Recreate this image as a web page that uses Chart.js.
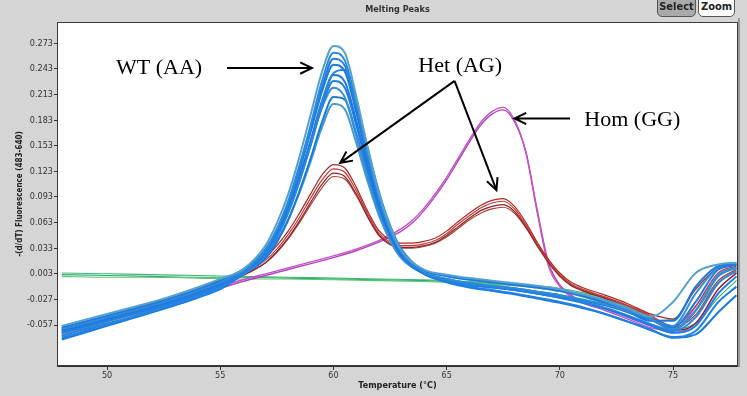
<!DOCTYPE html>
<html>
<head>
<meta charset="utf-8">
<script src="https://cdn.jsdelivr.net/npm/chart.js@4.4.0/dist/chart.umd.min.js"></script>
<style>
  html, body { margin: 0; padding: 0; background: #d5d5d5; }
  #wrap { position: relative; width: 747px; height: 396px; }
  .btn {
    position: absolute; top: -1px; height: 18px; line-height: 17px;
    font: bold 11px "DejaVu Sans Condensed", "Liberation Sans", sans-serif;
    color: #222; text-align: center; border: 1px solid #555;
    border-radius: 0 0 5px 5px; box-sizing: border-box;
  }
</style>
</head>
<body>
<div id="wrap">
  <canvas id="myChart" width="747" height="396"></canvas>
  <div class="btn" style="left:657px; width:39px; background:#a9a9a9;">Select</div>
  <div class="btn" style="left:698px; width:37px; background:#fff;">Zoom</div>
</div>
<script>
// Melting peak curves

// tick labels
const xTicks = [50, 55, 60, 65, 70, 75];
const yTicks = [-0.057, -0.027, 0.003, 0.033, 0.063, 0.093, 0.123, 0.153, 0.183, 0.213, 0.243, 0.273];

// WT (AA) curves - blue
const wtTemps = [48, 49, 50, 51, 52, 53, 54, 55, 56, 57, 57.5, 58, 58.5, 59, 59.5, 60, 60.5, 61, 61.5, 62, 62.5, 63, 64, 65, 66, 67, 68, 69, 70, 71, 72, 73, 74, 75, 76, 77, 77.8];
const wtCurves = [
  [-0.058,-0.051,-0.044,-0.037,-0.030,-0.022,-0.013,-0.003, 0.008,0.036,0.062,0.096,0.140,0.190,0.240,0.270,0.262,0.212,0.152,0.098,0.058,0.030,0.008, 0.002,-0.002,-0.005,-0.008,-0.011,-0.015,-0.021,-0.028,-0.037,-0.047,-0.030,0.004,0.014,0.016],
  [-0.062,-0.055,-0.048,-0.041,-0.034,-0.026,-0.017,-0.007, 0.006,0.031,0.055,0.088,0.130,0.178,0.229,0.262,0.253,0.204,0.145,0.094,0.055,0.029,0.005, -0.003,-0.008,-0.011,-0.014,-0.018,-0.022,-0.027,-0.033,-0.041,-0.050,-0.062,-0.040,0.000,0.010],
  [-0.066,-0.059,-0.052,-0.045,-0.038,-0.030,-0.021,-0.011, 0.004,0.029,0.052,0.084,0.125,0.172,0.222,0.255,0.247,0.200,0.142,0.092,0.054,0.028,0.004, -0.005,-0.010,-0.013,-0.016,-0.020,-0.025,-0.031,-0.038,-0.047,-0.057,-0.066,-0.058,-0.020,0.000],
  [-0.060,-0.053,-0.046,-0.039,-0.032,-0.024,-0.015,-0.005, 0.008,0.032,0.055,0.086,0.125,0.170,0.217,0.248,0.240,0.193,0.138,0.089,0.052,0.027,0.007, 0.000,-0.004,-0.007,-0.010,-0.013,-0.017,-0.023,-0.031,-0.041,-0.052,-0.052,-0.012,0.012,0.015],
  [-0.070,-0.062,-0.055,-0.048,-0.040,-0.032,-0.023,-0.013, 0.002,0.024,0.045,0.074,0.111,0.155,0.203,0.238,0.242,0.205,0.152,0.100,0.060,0.032,0.006, -0.004,-0.009,-0.012,-0.016,-0.020,-0.024,-0.030,-0.037,-0.046,-0.056,-0.064,-0.048,-0.008,0.006],
  [-0.064,-0.057,-0.050,-0.043,-0.036,-0.028,-0.019,-0.009, 0.005,0.027,0.049,0.079,0.117,0.160,0.206,0.236,0.228,0.183,0.131,0.084,0.049,0.025,0.004, -0.003,-0.008,-0.011,-0.014,-0.018,-0.022,-0.028,-0.034,-0.042,-0.051,-0.060,-0.030,0.008,0.013],
  [-0.072,-0.064,-0.056,-0.049,-0.041,-0.033,-0.024,-0.014, 0.003,0.025,0.046,0.075,0.112,0.154,0.199,0.229,0.221,0.178,0.127,0.082,0.048,0.024,0.003, -0.006,-0.012,-0.016,-0.020,-0.025,-0.030,-0.036,-0.044,-0.053,-0.063,-0.071,-0.064,-0.030,-0.012],
  [-0.061,-0.054,-0.047,-0.040,-0.033,-0.025,-0.016,-0.005, 0.008,0.030,0.052,0.081,0.117,0.157,0.198,0.221,0.210,0.165,0.117,0.075,0.044,0.023,0.006, 0.001,-0.003,-0.006,-0.009,-0.012,-0.016,-0.022,-0.029,-0.039,-0.050,-0.058,-0.020,0.010,0.014],
  [-0.074,-0.066,-0.058,-0.050,-0.042,-0.034,-0.025,-0.015, 0.002,0.021,0.040,0.066,0.100,0.139,0.181,0.210,0.207,0.168,0.121,0.078,0.046,0.023,0.003, -0.007,-0.013,-0.017,-0.021,-0.026,-0.031,-0.037,-0.044,-0.053,-0.062,-0.072,-0.068,-0.042,-0.022],
  [-0.067,-0.060,-0.053,-0.046,-0.038,-0.030,-0.021,-0.011, 0.004,0.023,0.041,0.066,0.098,0.135,0.175,0.202,0.196,0.157,0.112,0.072,0.042,0.021,0.003, -0.005,-0.010,-0.013,-0.016,-0.020,-0.025,-0.030,-0.037,-0.046,-0.056,-0.063,-0.040,0.002,0.010]
];
const wtColors = ['#55a2cf', '#2f8ad8', '#1f7fe6', '#1b78e0', '#2a86dc', '#1c7ae2', '#1f80e6', '#3a90d6', '#1b7ade', '#4a9bd0'];

// Het (AG) curves - red
const hetTemps = [48, 49, 50, 51, 52, 53, 54, 55, 56, 57, 57.5, 58, 58.5, 59, 59.5, 60, 60.5, 61, 61.5, 62, 62.5, 63, 63.5, 64, 64.5, 65, 65.5, 66, 66.5, 67, 67.5, 68, 68.5, 69, 69.5, 70, 70.5, 71, 72, 73, 74, 75, 76, 77, 77.8];
const hetCurves = [
  [-0.063,-0.055,-0.047,-0.039,-0.031,-0.022,-0.013,-0.004,0.006,0.022, 0.036,0.053,0.074,0.097,0.119,0.131,0.127,0.105,0.077,0.054,0.043,0.039,0.039,0.041,0.045,0.053,0.064,0.074,0.083,0.089,0.091,0.082,0.063,0.040,0.020,0.004,-0.007, -0.013,-0.022,-0.032,-0.044,-0.050,-0.015,0.010,0.014],
  [-0.066,-0.058,-0.050,-0.042,-0.034,-0.025,-0.016,-0.007,0.003,0.019, 0.032,0.049,0.069,0.092,0.113,0.126,0.122,0.101,0.074,0.051,0.040,0.036,0.036,0.038,0.042,0.050,0.061,0.071,0.080,0.086,0.088,0.079,0.060,0.038,0.018,0.002,-0.009, -0.015,-0.024,-0.034,-0.046,-0.058,-0.035,0.004,0.012],
  [-0.069,-0.061,-0.053,-0.045,-0.037,-0.028,-0.019,-0.009,0.001,0.016, 0.029,0.045,0.065,0.087,0.108,0.121,0.117,0.097,0.071,0.049,0.038,0.034,0.034,0.036,0.040,0.048,0.058,0.068,0.077,0.082,0.084,0.076,0.058,0.036,0.016,0.000,-0.011, -0.017,-0.026,-0.037,-0.050,-0.063,-0.055,-0.015,0.004],
  [-0.067,-0.059,-0.051,-0.043,-0.035,-0.026,-0.017,-0.008,0.002,0.016, 0.028,0.044,0.063,0.084,0.104,0.117,0.114,0.095,0.070,0.048,0.037,0.033,0.033,0.035,0.039,0.046,0.056,0.066,0.074,0.079,0.081,0.074,0.057,0.036,0.017,0.001,-0.010, -0.016,-0.025,-0.035,-0.047,-0.060,-0.045,-0.005,0.008]
];
const hetColors = ['#b02828', '#c23a36', '#8e2424', '#a9443c'];

// Hom (GG) curves - magenta
const homTemps = [48, 49, 50, 51, 52, 53, 54, 55, 56, 57, 58, 59, 60, 61, 62, 63, 63.5, 64, 64.5, 65, 65.5, 66, 66.5, 67, 67.5, 68, 68.5, 69, 69.5, 70, 70.5, 71, 72, 73, 74, 75, 76, 77, 77.8];
const homCurves = [
  [-0.062,-0.055,-0.048,-0.041,-0.034,-0.027,-0.020,-0.012,-0.004,0.003,0.010,0.017,0.024,0.032,0.042,0.056, 0.066,0.080,0.097,0.116,0.138,0.160,0.180,0.193,0.198,0.183,0.145,0.075,0.012,-0.012,-0.024, -0.031,-0.040,-0.050,-0.060,-0.064,-0.035,0.004,0.010],
  [-0.064,-0.057,-0.050,-0.043,-0.036,-0.029,-0.022,-0.014,-0.006,0.001,0.008,0.015,0.022,0.030,0.040,0.053, 0.063,0.077,0.094,0.113,0.135,0.157,0.177,0.190,0.195,0.181,0.146,0.078,0.016,-0.010,-0.022, -0.030,-0.038,-0.048,-0.058,-0.066,-0.055,-0.015,0.004]
];
const homColors = ['#c552c8', '#b545bd'];

// no template control - green
const ntcTemps = [48, 50, 52, 54, 56, 58, 60, 62, 64, 66, 68, 69, 70, 71, 72, 73, 74, 75, 76, 77, 77.8];
const ntcCurves = [
  [0.004,0.003,0.002,0.001,0.000,-0.001,-0.002,-0.003,-0.004,-0.006,-0.009,-0.011,-0.014,-0.019,-0.026,-0.036,-0.048,-0.058,-0.040,-0.005,0.008],
  [0.000,-0.001,-0.001,-0.002,-0.003,-0.003,-0.004,-0.005,-0.006,-0.008,-0.011,-0.014,-0.018,-0.024,-0.032,-0.042,-0.052,-0.050,-0.015,0.010,0.014],
  [0.002,0.001,0.000,-0.001,-0.001,-0.002,-0.003,-0.004,-0.005,-0.007,-0.010,-0.013,-0.016,-0.021,-0.028,-0.038,-0.050,-0.062,-0.055,-0.025,-0.005]
];
const ntcColors = ['#3cb878', '#5cc46e', '#2fa86a'];

// annotation labels and arrows, in data units (°C, -dF/dT)
const noteLabels = [
  { text: 'WT (AA)', x: 52.3, y: 0.244 },
  { text: 'Het (AG)', x: 65.6, y: 0.246 },
  { text: 'Hom (GG)', x: 73.2, y: 0.183 }
];
const noteArrows = [
  { from: [55.3, 0.244], to: [59.05, 0.244] },
  { from: [65.35, 0.229], to: [60.3, 0.133] },
  { from: [65.35, 0.229], to: [67.2, 0.101] },
  { from: [70.45, 0.185], to: [68.0, 0.185] }
];

// build datasets
function makeSets(temps, curves, colors, width) {
  return curves.map((vals, i) => ({
    data: temps.map((t, j) => ({ x: t, y: vals[j] })),
    borderColor: colors[i % colors.length],
    borderWidth: width,
    pointRadius: 0,
    cubicInterpolationMode: 'monotone',
    fill: false
  }));
}

const datasets = [
  ...makeSets(wtTemps, wtCurves, wtColors, 2),
  ...makeSets(hetTemps, hetCurves, hetColors, 1.2),
  ...makeSets(homTemps, homCurves, homColors, 1.4),
  ...makeSets(ntcTemps, ntcCurves, ntcColors, 1.1)
];

// Plot frame, title and the arrows
const decorPlugin = {
  id: 'decor',
  beforeDraw(chart) {
    const { ctx, chartArea: a } = chart;
    ctx.save();
    ctx.fillStyle = '#ffffff';
    ctx.fillRect(a.left, a.top, a.right - a.left, a.bottom - a.top);
    ctx.restore();
  },
  afterDraw(chart) {
    const { ctx, chartArea: a, scales } = chart;
    ctx.save();
    // frame
    ctx.strokeStyle = '#3a3a3a';
    ctx.lineWidth = 1;
    ctx.strokeRect(a.left + 0.5, a.top + 0.5, a.right - a.left - 1, a.bottom - a.top - 1);
    ctx.strokeStyle = '#9a9a9a';
    ctx.lineWidth = 2;
    ctx.beginPath();
    ctx.moveTo(a.right + 1, a.top - 4);
    ctx.lineTo(a.right + 1, a.bottom + 1);
    ctx.stroke();

    // title
    ctx.fillStyle = '#333';
    ctx.font = 'bold 9px "DejaVu Sans Condensed", "Liberation Sans", sans-serif';
    ctx.textAlign = 'center';
    ctx.textBaseline = 'middle';
    ctx.fillText('Melting Peaks', (a.left + a.right) / 2, 10);

    // annotation text
    ctx.fillStyle = '#000';
    ctx.font = '22px "Liberation Serif", "Times New Roman", serif';
    noteLabels.forEach(n => {
      ctx.fillText(n.text, scales.x.getPixelForValue(n.x), scales.y.getPixelForValue(n.y));
    });

    // arrows
    ctx.strokeStyle = '#000';
    ctx.lineWidth = 2;
    noteArrows.forEach(ar => {
      const x1 = scales.x.getPixelForValue(ar.from[0]);
      const y1 = scales.y.getPixelForValue(ar.from[1]);
      const x2 = scales.x.getPixelForValue(ar.to[0]);
      const y2 = scales.y.getPixelForValue(ar.to[1]);
      const ang = Math.atan2(y2 - y1, x2 - x1);
      const head = 13;
      ctx.beginPath();
      ctx.moveTo(x1, y1);
      ctx.lineTo(x2, y2);
      ctx.moveTo(x2 - head * Math.cos(ang - 0.45), y2 - head * Math.sin(ang - 0.45));
      ctx.lineTo(x2, y2);
      ctx.lineTo(x2 - head * Math.cos(ang + 0.45), y2 - head * Math.sin(ang + 0.45));
      ctx.stroke();
    });
    ctx.restore();
  }
};

const tickFont = { family: '"DejaVu Sans Condensed", "Liberation Sans", sans-serif', size: 9 };

const ctx = document.getElementById('myChart').getContext('2d');
const chart = new Chart(ctx, {
  type: 'line',
  data: { datasets: datasets },
  options: {
    responsive: false,
    animation: false,
    devicePixelRatio: 1,
    layout: { padding: { left: 0, right: 9, top: 22, bottom: 0 } },
    plugins: { legend: { display: false }, tooltip: { enabled: false } },
    scales: {
      x: {
        type: 'linear',
        min: 47.79,
        max: 77.87,
        afterBuildTicks: (scale) => { scale.ticks = xTicks.map(v => ({ value: v })); },
        afterFit: (scale) => { scale.height = 30; },
        ticks: { font: tickFont, color: '#333', padding: 0, maxRotation: 0 },
        grid: { drawOnChartArea: false, tickLength: 4, color: '#333' },
        border: { display: true, color: '#333' },
        title: {
          display: true,
          text: 'Temperature (°C)',
          color: '#222',
          font: { family: '"DejaVu Sans Condensed", "Liberation Sans", sans-serif', size: 9, weight: 'bold' },
          padding: { top: 0, bottom: 5 }
        }
      },
      y: {
        min: -0.105,
        max: 0.298,
        afterBuildTicks: (scale) => { scale.ticks = yTicks.map(v => ({ value: v })); },
        afterFit: (scale) => { scale.width = 57; },
        ticks: { font: tickFont, color: '#333', padding: 1, callback: (v) => v.toFixed(3) },
        grid: { drawOnChartArea: false, tickLength: 3, color: '#333' },
        border: { display: true, color: '#333' },
        title: {
          display: true,
          text: '-(d/dT) Fluorescence (483-640)',
          color: '#222',
          font: { family: '"DejaVu Sans Condensed", "Liberation Sans", sans-serif', size: 8, weight: 'bold' },
          padding: { top: 15, bottom: 0 }
        }
      }
    }
  },
  plugins: [decorPlugin]
});
</script>
</body>
</html>
